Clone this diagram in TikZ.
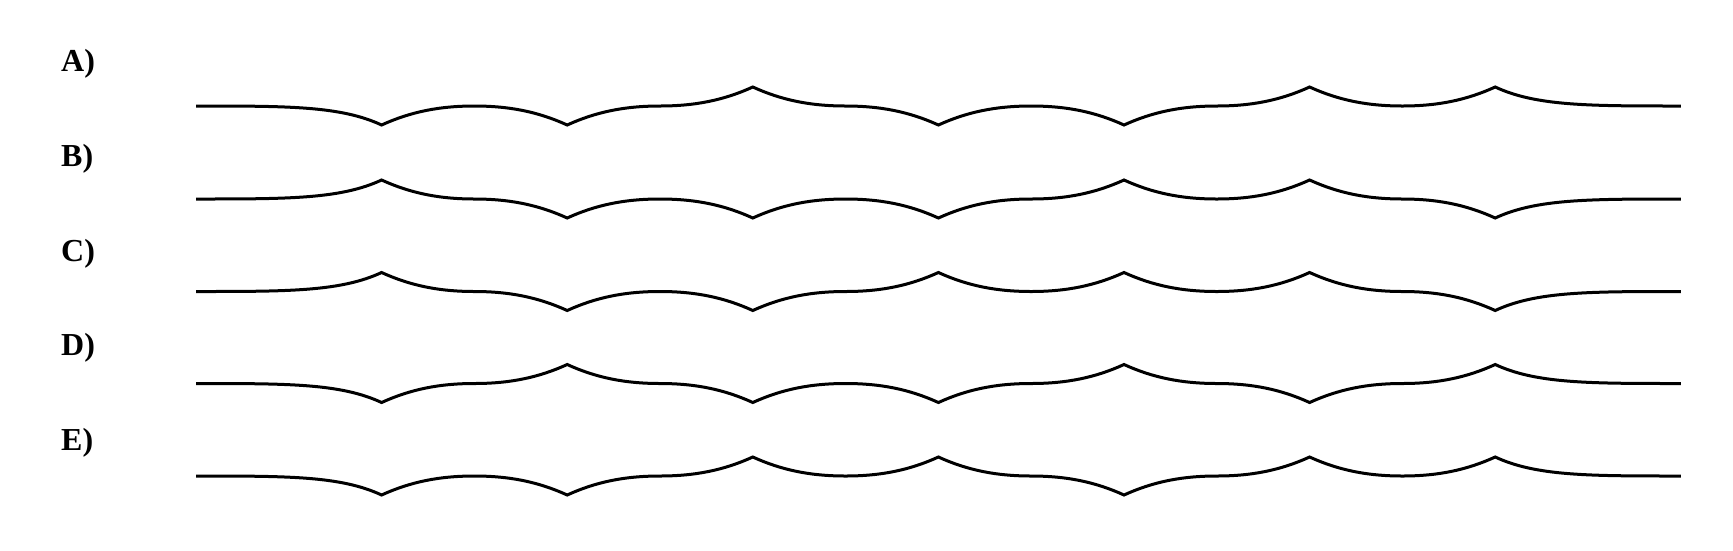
\documentclass[tikz,border=0pt]{standalone}
\usepackage{fontspec}
\setmainfont{Liberation Serif}
\def\wavex{196}
\def\segL{185.6}
\def\waveh{19}
% half-segments between two cusps: #1 index of left cusp, #2 left sign, #3 right sign, #4 baseline
\newcommand\wm[4]{%
 .. controls ({\wavex+#1*\segL+0.155*\segL},{#4-(#2)*\waveh*0.31}) and ({\wavex+#1*\segL+0.31*\segL},#4) .. ({\wavex+#1*\segL+\segL/2},#4)
 .. controls ({\wavex+#1*\segL+0.69*\segL},#4) and ({\wavex+#1*\segL+0.845*\segL},{#4-(#3)*\waveh*0.31}) .. ({\wavex+(#1+1)*\segL},{#4-(#3)*\waveh})}
\newcommand\wave[8]{%
 \draw[waveline] (\wavex,#1) .. controls ({\wavex+0.5*\segL},#1) and ({\wavex+0.78*\segL},#1) .. ({\wavex+\segL},{#1-(#2)*\waveh})
 \wm{1}{#2}{#3}{#1}\wm{2}{#3}{#4}{#1}\wm{3}{#4}{#5}{#1}\wm{4}{#5}{#6}{#1}\wm{5}{#6}{#7}{#1}\wm{6}{#7}{#8}{#1}
 .. controls ({\wavex+7.22*\segL},#1) and ({\wavex+7.5*\segL},#1) .. ({\wavex+8*\segL},#1);}
\tikzset{
 waveline/.style={line width=3pt, black},
 lab/.style={anchor=base west, inner sep=0pt, font=\fontsize{32}{38}\selectfont\bfseries}
}
\begin{document}
\begin{tikzpicture}[x=1pt,y=-1pt]
\useasboundingbox (0,0) rectangle (1733,550);
\node[lab] (la) at (61,71) {A)};
\node[lab] (lb) at (61,166) {B)};
\node[lab] (lc) at (61,261) {C)};
\node[lab] (ld) at (61,355) {D)};
\node[lab] (le) at (61,450) {E)};
\wave{106}{-1}{-1}{1}{-1}{-1}{1}{1}
\wave{199}{1}{-1}{-1}{-1}{1}{1}{-1}
\wave{291.5}{1}{-1}{-1}{1}{1}{1}{-1}
\wave{383.5}{-1}{1}{-1}{-1}{1}{-1}{1}
\wave{476}{-1}{-1}{1}{1}{-1}{1}{1}
\end{tikzpicture}
\end{document}
